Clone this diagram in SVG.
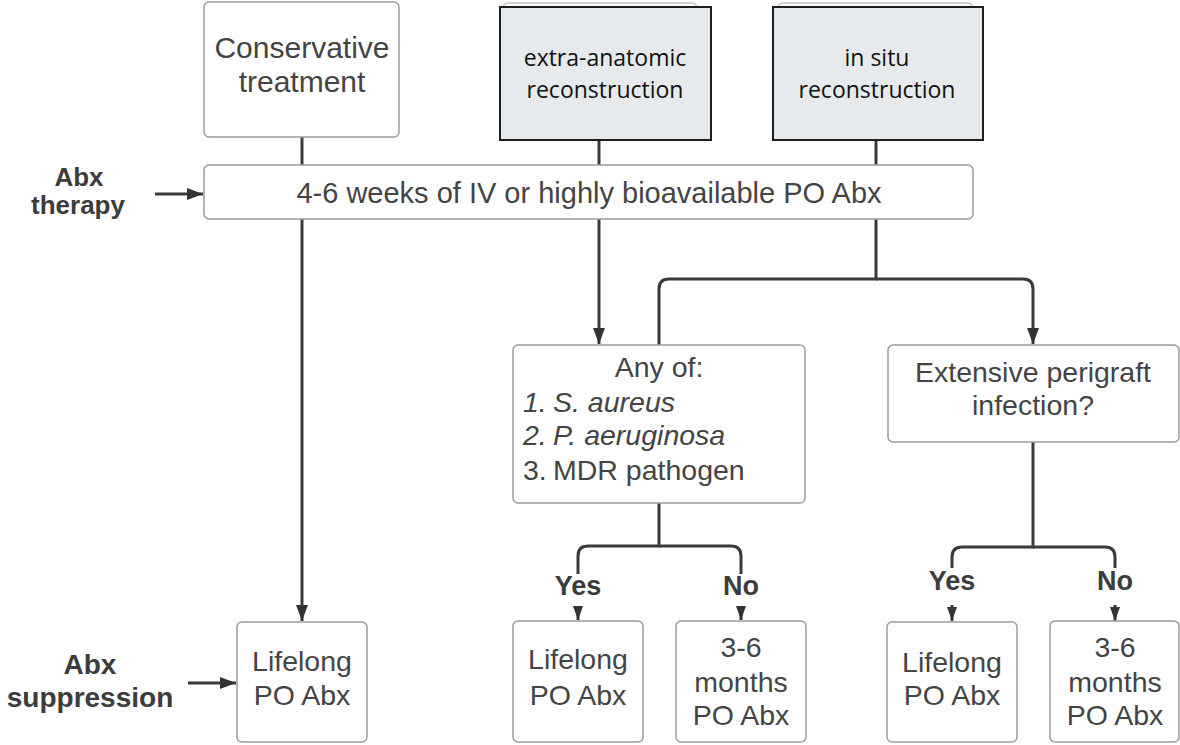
<svg xmlns="http://www.w3.org/2000/svg" width="1180" height="745" viewBox="0 0 1180 745">
<style>
.box{fill:#fff;stroke:#9c9c9c;stroke-width:1.5}
.gbox{fill:#e7eaec;stroke:#1e1e1e;stroke-width:2}
.ghost{fill:none;stroke:#c4c4c4;stroke-width:1.5}
.t{font-family:"Liberation Sans",Arial,sans-serif;font-size:28.5px;fill:#444;text-anchor:middle}
.o{font-family:"Open Sans","Noto Sans",sans-serif;font-size:23px;fill:#111;text-anchor:middle}
.b{font-family:"Liberation Sans",Arial,sans-serif;font-size:27px;font-weight:bold;fill:#3c3c3c;text-anchor:middle}
.l{font-family:"Liberation Sans",Arial,sans-serif;font-size:28.5px;fill:#444}
.c{fill:none;stroke:#3a3a3a;stroke-width:3}
</style>
<defs>
<marker id="arr" markerUnits="userSpaceOnUse" viewBox="0 0 16 14" refX="16" refY="7" markerWidth="16" markerHeight="14" orient="auto"><path d="M0,1 L16,7 L0,13 z" fill="#333"/></marker>
<marker id="arrs" markerUnits="userSpaceOnUse" viewBox="0 0 14 12" refX="14" refY="6" markerWidth="14" markerHeight="12" orient="auto"><path d="M0,1 L14,6 L0,11 z" fill="#333"/></marker>
</defs>
<rect width="1180" height="745" fill="#fff"/>
<g id="connectors">
<path class="c" d="M302,137 V165"/>
<path class="c" d="M302,219 V621" marker-end="url(#arr)"/>
<path class="c" d="M599,140 V165"/>
<path class="c" d="M599,219 V344" marker-end="url(#arr)"/>
<path class="c" d="M876,140 V165"/>
<path class="c" d="M876,219 V279 H669 Q659,279 659,289 V345"/>
<path class="c" d="M876,279 H1023 Q1033,279 1033,289 V344" marker-end="url(#arr)"/>
<path class="c" d="M155,194 H203" marker-end="url(#arr)"/>
<path class="c" d="M188,683 H236" marker-end="url(#arr)"/>
<path class="c" d="M659,503 V546 H588 Q578,546 578,556 V620" marker-end="url(#arrs)"/>
<path class="c" d="M659,546 H731 Q741,546 741,556 V620" marker-end="url(#arrs)"/>
<path class="c" d="M1033,442 V547 H962 Q952,547 952,557 V621" marker-end="url(#arrs)"/>
<path class="c" d="M1033,547 H1105 Q1115,547 1115,557 V621" marker-end="url(#arrs)"/>
</g>
<g id="labels">
<rect x="550" y="574" width="56" height="32" fill="#fff"/>
<text class="b" x="578" y="595">Yes</text>
<rect x="718" y="574" width="46" height="32" fill="#fff"/>
<text class="b" x="741" y="595">No</text>
<rect x="924" y="568" width="56" height="37" fill="#fff"/>
<text class="b" x="952" y="590">Yes</text>
<rect x="1092" y="568" width="46" height="37" fill="#fff"/>
<text class="b" x="1115" y="590">No</text>
<text class="b" x="79" y="186" style="font-size:26px">Abx</text>
<text class="b" x="78" y="214" style="font-size:26px">therapy</text>
<text class="b" x="90" y="674" style="font-size:28px">Abx</text>
<text class="b" x="90" y="707" style="font-size:28px">suppression</text>
</g>
<g id="conservative">
<rect class="box" x="204" y="2" width="195" height="135" rx="5"/>
<text class="t" x="302" y="58" style="font-size:30px">Conservative</text>
<text class="t" x="302" y="92" style="font-size:30px">treatment</text>
</g>
<g id="extra-anatomic">
<rect class="ghost" x="503" y="3" width="194" height="60" rx="5"/>
<rect class="gbox" x="500" y="7" width="211" height="133"/>
<text class="o" x="605" y="66">extra-anatomic</text>
<text class="o" x="605" y="98">reconstruction</text>
</g>
<g id="in-situ">
<rect class="ghost" x="778" y="3" width="195" height="60" rx="5"/>
<rect class="gbox" x="773" y="7" width="210" height="133"/>
<text class="o" x="877" y="66">in situ</text>
<text class="o" x="877" y="98">reconstruction</text>
</g>
<g id="abx-therapy">
<rect class="box" x="204" y="165" width="769" height="54" rx="5"/>
<text class="t" x="589" y="203" style="font-size:29px">4-6 weeks of IV or highly bioavailable PO Abx</text>
</g>
<g id="any-of">
<rect class="box" x="513" y="345" width="292" height="158" rx="5"/>
<text class="t" x="659" y="377">Any of:</text>
<text class="l" x="523" y="412" font-style="italic">1.</text>
<text class="l" x="553" y="412" font-style="italic">S. aureus</text>
<text class="l" x="523" y="445" font-style="italic">2.</text>
<text class="l" x="553" y="445" font-style="italic">P. aeruginosa</text>
<text class="l" x="523" y="480">3.</text>
<text class="l" x="553" y="480">MDR pathogen</text>
</g>
<g id="extensive">
<rect class="box" x="888" y="345" width="291" height="97" rx="5"/>
<text class="t" x="1033" y="382">Extensive perigraft</text>
<text class="t" x="1033" y="415">infection?</text>
</g>
<g id="lifelong-1">
<rect class="box" x="237" y="622" width="130" height="120" rx="5"/>
<text class="t" x="302" y="671">Lifelong</text>
<text class="t" x="302" y="705">PO Abx</text>
</g>
<g id="lifelong-2">
<rect class="box" x="513" y="621" width="130" height="121" rx="5"/>
<text class="t" x="578" y="669">Lifelong</text>
<text class="t" x="578" y="705">PO Abx</text>
</g>
<g id="months-2">
<rect class="box" x="676" y="621" width="130" height="121" rx="5"/>
<text class="t" x="741" y="657">3-6</text>
<text class="t" x="741" y="692">months</text>
<text class="t" x="741" y="725">PO Abx</text>
</g>
<g id="lifelong-3">
<rect class="box" x="887" y="622" width="130" height="120" rx="5"/>
<text class="t" x="952" y="672">Lifelong</text>
<text class="t" x="952" y="705">PO Abx</text>
</g>
<g id="months-3">
<rect class="box" x="1050" y="621" width="129" height="121" rx="5"/>
<text class="t" x="1115" y="657">3-6</text>
<text class="t" x="1115" y="692">months</text>
<text class="t" x="1115" y="725">PO Abx</text>
</g>
</svg>
